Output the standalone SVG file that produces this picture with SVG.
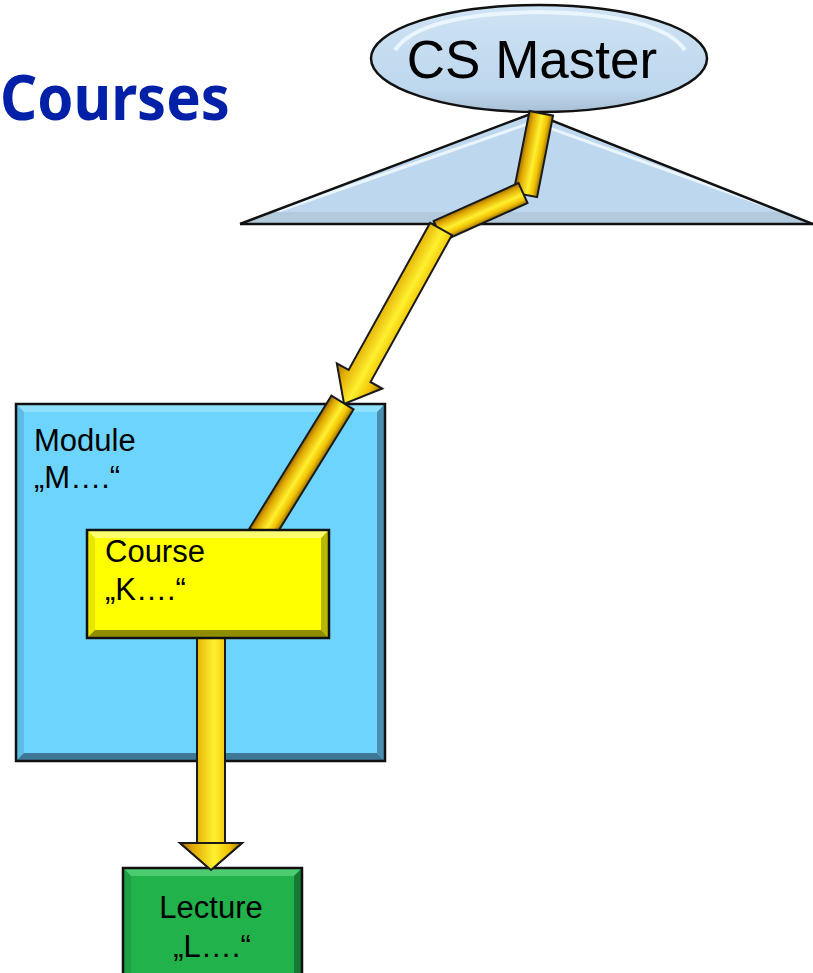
<svg xmlns="http://www.w3.org/2000/svg" width="813" height="973" viewBox="0 0 813 973">
<defs>
<linearGradient id="gold" x1="0" y1="0" x2="1" y2="0">
<stop offset="0" stop-color="#9A6A00"/>
<stop offset="0.2" stop-color="#E0A800"/>
<stop offset="0.55" stop-color="#FFF030"/>
<stop offset="0.8" stop-color="#F0C000"/>
<stop offset="1" stop-color="#9A7000"/>
</linearGradient>
<linearGradient id="ellG" x1="0" y1="0" x2="0" y2="1">
<stop offset="0" stop-color="#CFE3F3"/>
<stop offset="0.8" stop-color="#BDD7EE"/>
<stop offset="1" stop-color="#A8C0D4"/>
</linearGradient>
<style>
.lbl{font-family:"Liberation Sans",Arial,sans-serif;font-size:31px;fill:#000}
.bar{fill:url(#gold);stroke:#1a1a1a;stroke-width:2;stroke-linejoin:miter}
.edge{stroke:#111;stroke-width:2.5;fill:none}
</style>
</defs>
<rect width="813" height="973" fill="#fff"/>

<text x="0" y="120" font-family="'Noto Sans','Open Sans',sans-serif" font-weight="bold" font-size="62" fill="#0020A8" textLength="230" lengthAdjust="spacingAndGlyphs">Courses</text>

<g id="tree">
<polygon points="533,113 813,224 240,224" fill="#BDD7EE"/>
<polyline points="264,216 533,122 800,218" fill="none" stroke="#EAF4FC" stroke-width="3"/>
<polygon points="271.7,212 782.7,212 813,224 240,224" fill="#B2CADC"/>
<polyline points="240,224 533,113 813,224" fill="none" stroke="#111" stroke-width="2.5"/>
<line x1="240" y1="224" x2="813" y2="224" stroke="#111" stroke-width="2.5"/>
</g>

<g id="cs-master">
<ellipse cx="539" cy="58.5" rx="168" ry="53.5" fill="url(#ellG)"/>
<path d="M 395 50 Q 420 14 539 12 Q 660 14 685 50" fill="none" stroke="#EAF5FD" stroke-width="4"/>
<ellipse cx="539" cy="58.5" rx="168" ry="53.5" class="edge"/>
<text x="532" y="78" text-anchor="middle" font-family="'Liberation Sans',Arial,sans-serif" font-size="53" fill="#000">CS Master</text>
</g>

<g id="module">
<rect x="16" y="404" width="369" height="357" fill="#6DD5FD"/>
<polygon points="16,404 385,404 377,412 24,412" fill="#8FE0FF"/>
<polygon points="16,404 24,412 24,753 16,761" fill="#5DBCE6"/>
<polygon points="385,404 385,761 377,753 377,412" fill="#4A8FB2"/>
<polygon points="16,761 385,761 377,753 24,753" fill="#3E7896"/>
<rect x="16" y="404" width="369" height="357" class="edge"/>
<text class="lbl" x="34" y="451">Module</text>
<text class="lbl" x="34" y="488">„M….“</text>
</g>

<g id="connectors">
<g transform="translate(541.3,113.3) rotate(11.1)">
<rect class="bar" x="-12" y="0" width="24" height="83"/>
</g>
<g transform="translate(523,193) rotate(65.8)">
<rect class="bar" x="-11" y="0" width="22" height="93"/>
</g>
<g transform="translate(441,229) rotate(29)">
<polygon class="bar" points="-12.5,0 12.5,0 12.5,168 26,168 0,200 -26,168 -12.5,168"/>
</g>
<g transform="translate(342.5,402.5) rotate(31.7)">
<rect class="bar" x="-13" y="0" width="26" height="156"/>
</g>
<g transform="translate(211,637)">
<polygon class="bar" points="-14,0 14,0 14,206 31,206 0,233 -31,206 -14,206"/>
</g>
</g>

<g id="course">
<rect x="87" y="530" width="242" height="108" fill="#FFFF00"/>
<polygon points="87,530 329,530 321,538 95,538" fill="#FFFF70"/>
<polygon points="87,530 95,538 95,630 87,638" fill="#E6E600"/>
<polygon points="329,530 329,638 321,630 321,538" fill="#B8B800"/>
<polygon points="87,638 329,638 321,630 95,630" fill="#8E8E00"/>
<rect x="87" y="530" width="242" height="108" class="edge"/>
<text class="lbl" x="105" y="562">Course</text>
<text class="lbl" x="105" y="600">„K….“</text>
</g>

<g id="lecture">
<rect x="123" y="868" width="179" height="120" fill="#22B24C"/>
<polygon points="123,868 302,868 294,876 131,876" fill="#4CCB70"/>
<polygon points="123,868 131,876 131,988 123,988" fill="#1EA044"/>
<polygon points="302,868 302,988 294,988 294,876" fill="#157A34"/>
<rect x="123" y="868" width="179" height="120" class="edge"/>
<text class="lbl" x="211" y="918" text-anchor="middle">Lecture</text>
<text class="lbl" x="212" y="957" text-anchor="middle">„L….“</text>
</g>
<polygon points="180,843 242,843 211,870" fill="url(#gold)" stroke="#1a1a1a" stroke-width="2"/>
</svg>
